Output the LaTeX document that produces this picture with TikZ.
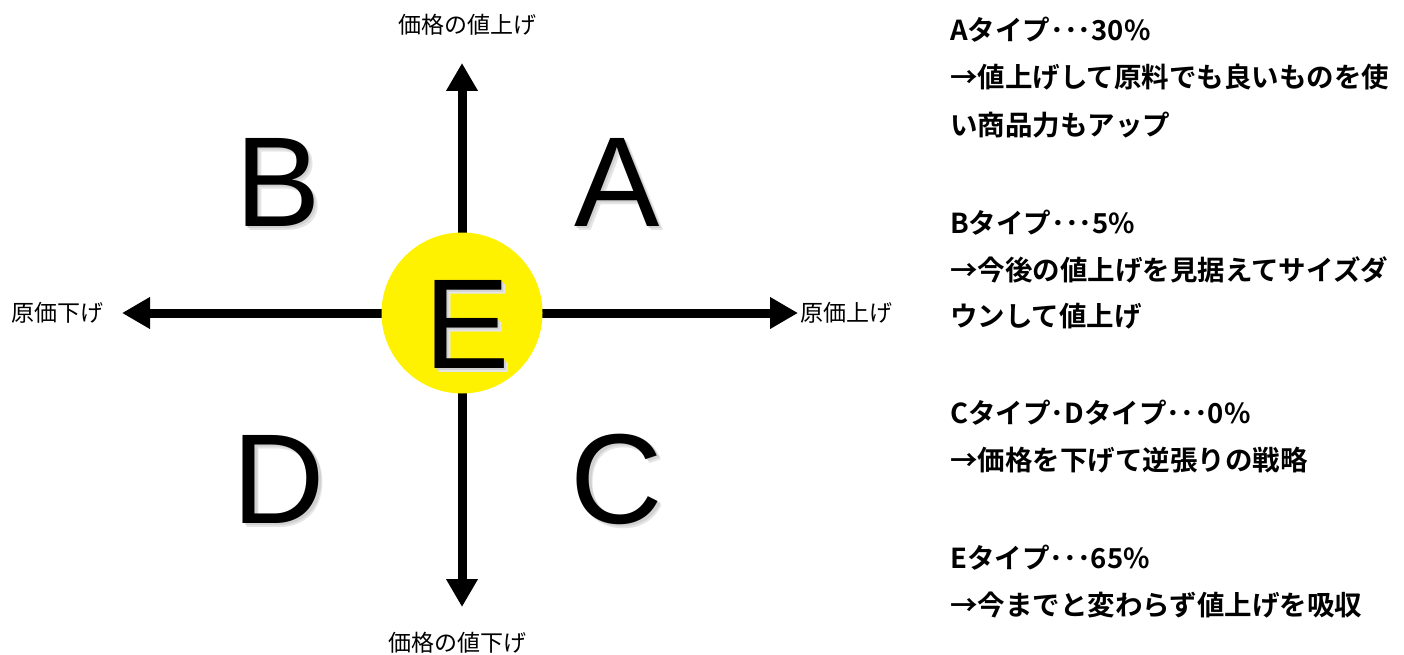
\documentclass[tikz,border=0pt]{standalone}
\usepackage{fontspec}
\newfontfamily\jp{Noto Sans CJK JP}
\newfontfamily\jpb{Noto Sans CJK JP Bold}
\newfontfamily\lat{Liberation Sans}
\usetikzlibrary{arrows.meta}
\newcommand\shadowedtxt[1]{\makebox[0pt][l]{\hspace{4pt}\raisebox{-4pt}{\textcolor{black!10}{#1}}}\makebox[0pt][l]{\hspace{2.5pt}\raisebox{-2.5pt}{\textcolor{black!18}{#1}}}#1}
\begin{document}
\begin{tikzpicture}[x=1pt,y=-1pt,
  axis/.style={line width=9pt,-{Triangle[length=28pt,width=30pt]}},
  axlabel/.style={font=\jp\fontsize{23}{23}\selectfont,inner sep=0pt},
  bigletter/.style={font=\lat\fontsize{128}{128}\selectfont,inner sep=0pt,text=black},
  desc/.style={font=\jpb\fontsize{27.5}{27.5}\selectfont,inner sep=0pt,anchor=west,text height=0.8em,text depth=0.2em}]
\useasboundingbox (0,0) rectangle (1404,655);
% axes
\coordinate (top) at (462,63);
\coordinate (bot) at (462,607);
\coordinate (lft) at (122,313);
\coordinate (rgt) at (798,313);
\coordinate (ctr) at (462,313);
\draw[axis] (ctr) -- (top);
\draw[axis] (ctr) -- (bot);
\draw[axis] (ctr) -- (lft);
\draw[axis] (ctr) -- (rgt);
% center circle
\node[circle,fill=yellow,minimum size=161pt,inner sep=0pt] (E) at (ctr) {};
% letters with soft shadow
\node[bigletter] (B) at (278,184) {\shadowedtxt{B}};
\node[bigletter] (A) at (617,184) {\shadowedtxt{A}};
\node[bigletter] (D) at (279,481) {\shadowedtxt{D}};
\node[bigletter] (C) at (617,481) {\shadowedtxt{C}};
\node[bigletter] (Eletter) at (467,326) {\shadowedtxt{E}};
% axis labels
\node[axlabel] (ltop) at (467,25) {価格の値上げ};
\node[axlabel] (lbot) at (457,643) {価格の値下げ};
\node[axlabel,anchor=west] (llft) at (11,313) {原価下げ};
\node[axlabel,anchor=west] (lrgt) at (800,313) {原価上げ};
% descriptions
\node[desc] (a1) at (950,38) {Aタイプ･･･30\%};
\node[desc] (a2) at (950,85) {→値上げして原料でも良いものを使};
\node[desc] (a3) at (950,133) {い商品力もアップ};
\node[desc] (b1) at (950,230) {Bタイプ･･･5\%};
\node[desc] (b2) at (950,277) {→今後の値上げを見据えてサイズダ};
\node[desc] (b3) at (950,323) {ウンして値上げ};
\node[desc] (c1) at (950,420) {Cタイプ･Dタイプ･･･0\%};
\node[desc] (c2) at (950,467) {→価格を下げて逆張りの戦略};
\node[desc] (e1) at (950,565) {Eタイプ･･･65\%};
\node[desc] (e2) at (950,612) {→今までと変わらず値上げを吸収};
\end{tikzpicture}
\end{document}
